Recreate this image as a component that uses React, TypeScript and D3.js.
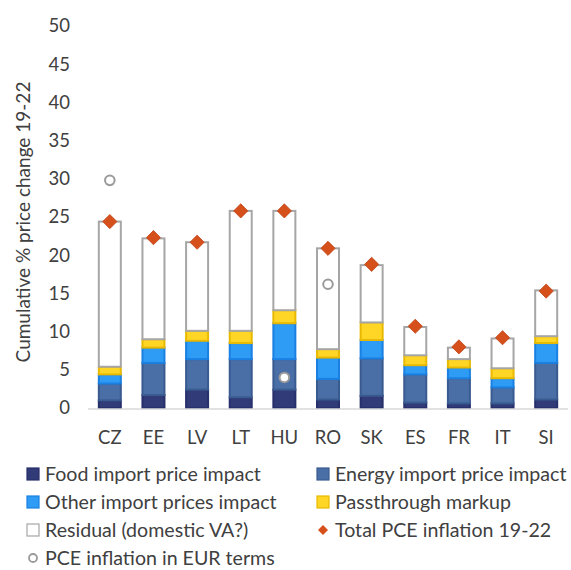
import React from "react";
import * as d3 from "d3";

const categories = ["CZ", "EE", "LV", "LT", "HU", "RO", "SK", "ES", "FR", "IT", "SI"];
const food = [1.0, 1.7, 2.4, 1.4, 2.4, 1.1, 1.6, 0.7, 0.6, 0.6, 1.1];
const energy = [2.2, 4.2, 4.0, 5.0, 4.0, 2.7, 4.9, 3.7, 3.3, 2.1, 4.8];
const otherImport = [1.2, 2.0, 2.4, 2.1, 4.7, 2.8, 2.4, 1.2, 1.4, 1.2, 2.6];
const passthrough = [1.0, 1.1, 1.3, 1.6, 1.7, 1.1, 2.3, 1.3, 1.1, 1.3, 0.9];
const residual = [19.0, 13.2, 11.6, 15.7, 13.0, 13.2, 7.5, 3.7, 1.5, 3.9, 6.0];
const totalPCE = [24.4, 22.3, 21.7, 25.8, 25.8, 20.9, 18.8, 10.7, 8.0, 9.2, 15.3];
const pceEUR: (number | null)[] = [29.8, null, null, null, 4.0, 16.2, null, null, null, null, null];
const yTicks = [0, 5, 10, 15, 20, 25, 30, 35, 40, 45, 50];

const seriesKeys = ["food", "energy", "other", "pass", "residual"];
const seriesNames = [
  "Food import price impact",
  "Energy import price impact",
  "Other import prices impact",
  "Passthrough markup",
  "Residual (domestic VA?)",
];
const fills = ["#313B78", "#4A6EA6", "#2E9BF5", "#FFD626", "#FFFFFF"];
const strokes = ["#27306A", "#3A5B90", "#1A80E2", "#E8B900", "#A6A6A6"];
const diamondColor = "#D5501B";
const circleStroke = "#9A9A9A";
const FONT = "Lato, 'Open Sans', sans-serif";

export default function App() {
  const W = 571;
  const H = 570;
  const x = d3
    .scaleBand<string>()
    .domain(categories)
    .range([88, 568])
    .paddingInner(0.45)
    .paddingOuter(0.225);
  const y = d3.scaleLinear().domain([0, 50]).range([408, 26]);

  const rows = categories.map((c, i) => ({
    cat: c,
    food: food[i],
    energy: energy[i],
    other: otherImport[i],
    pass: passthrough[i],
    residual: residual[i],
  }));
  const stacked = d3.stack<any>().keys(seriesKeys)(rows);
  const diamond = d3.symbol(d3.symbolSquare, 100)()!;
  const diamondSmall = d3.symbol(d3.symbolSquare, 50)()!;

  const legendItems = [
    { label: seriesNames[0], type: "rect", idx: 0, col: 0, row: 0 },
    { label: seriesNames[1], type: "rect", idx: 1, col: 1, row: 0 },
    { label: seriesNames[2], type: "rect", idx: 2, col: 0, row: 1 },
    { label: seriesNames[3], type: "rect", idx: 3, col: 1, row: 1 },
    { label: seriesNames[4], type: "rect", idx: 4, col: 0, row: 2 },
    { label: "Total PCE inflation 19-22", type: "diamond", idx: -1, col: 1, row: 2 },
    { label: "PCE inflation in EUR terms", type: "circle", idx: -1, col: 0, row: 3 },
  ];
  const legX = [26, 316];
  const legY = [474, 502, 530, 558];

  return (
    <svg
      width={W}
      height={H}
      style={{ position: "absolute", left: 0, top: 0, background: "#fff" }}
      fontFamily={FONT}
    >
      {/* y axis tick labels */}
      {yTicks.map((t) => (
        <text key={t} x={70} y={y(t)} dy="0.35em" textAnchor="end" fontSize={18.5} fill="#404040">
          {t}
        </text>
      ))}
      <text
        transform={`translate(23,${222}) rotate(-90)`}
        textAnchor="middle"
        dy="0.35em"
        fontSize={19}
        fill="#404040"
      >
        Cumulative % price change 19-22
      </text>

      {/* bars */}
      {stacked.map((s, si) => (
        <g key={s.key}>
          {s.map((d: any, i: number) => (
            <rect
              key={i}
              x={x(categories[i])! + 1}
              width={x.bandwidth() - 2}
              y={y(d[1])}
              height={Math.max(0, y(d[0]) - y(d[1]))}
              fill={fills[si]}
              stroke={strokes[si]}
              strokeWidth={2}
            />
          ))}
        </g>
      ))}

      {/* baseline */}
      <line x1={88} x2={568} y1={y(0) + 1} y2={y(0) + 1} stroke="#D9D9D9" strokeWidth={1.5} />

      {/* category labels */}
      {categories.map((c) => (
        <text
          key={c}
          x={x(c)! + x.bandwidth() / 2}
          y={438}
          dy="0.35em"
          textAnchor="middle"
          fontSize={18.5}
          fill="#404040"
        >
          {c}
        </text>
      ))}

      {/* total PCE diamonds */}
      {totalPCE.map((v, i) => (
        <path
          key={i}
          d={diamond}
          transform={`translate(${x(categories[i])! + x.bandwidth() / 2},${y(v)}) rotate(45)`}
          fill={diamondColor}
          stroke="#C2461A"
          strokeWidth={0.8}
        />
      ))}

      {/* EUR circles */}
      {pceEUR.map((v, i) =>
        v == null ? null : (
          <circle
            key={i}
            cx={x(categories[i])! + x.bandwidth() / 2}
            cy={y(v)}
            r={4.8}
            fill="#FFFFFF"
            stroke={circleStroke}
            strokeWidth={2}
          />
        )
      )}

      {/* legend */}
      {legendItems.map((it, k) => {
        const lx = legX[it.col];
        const ly = legY[it.row];
        return (
          <g key={k}>
            {it.type === "rect" && (
              <rect
                x={lx + 1}
                y={ly - 6}
                width={12}
                height={12}
                fill={fills[it.idx]}
                stroke={strokes[it.idx]}
                strokeWidth={1.2}
              />
            )}
            {it.type === "diamond" && (
              <path
                d={diamondSmall}
                transform={`translate(${lx + 7},${ly}) rotate(45)`}
                fill={diamondColor}
              />
            )}
            {it.type === "circle" && (
              <circle cx={lx + 7} cy={ly} r={4} fill="#fff" stroke={circleStroke} strokeWidth={1.8} />
            )}
            <text x={lx + 19} y={ly} dy="0.35em" fontSize={19.6} fill="#404040">
              {it.label}
            </text>
          </g>
        );
      })}
    </svg>
  );
}
